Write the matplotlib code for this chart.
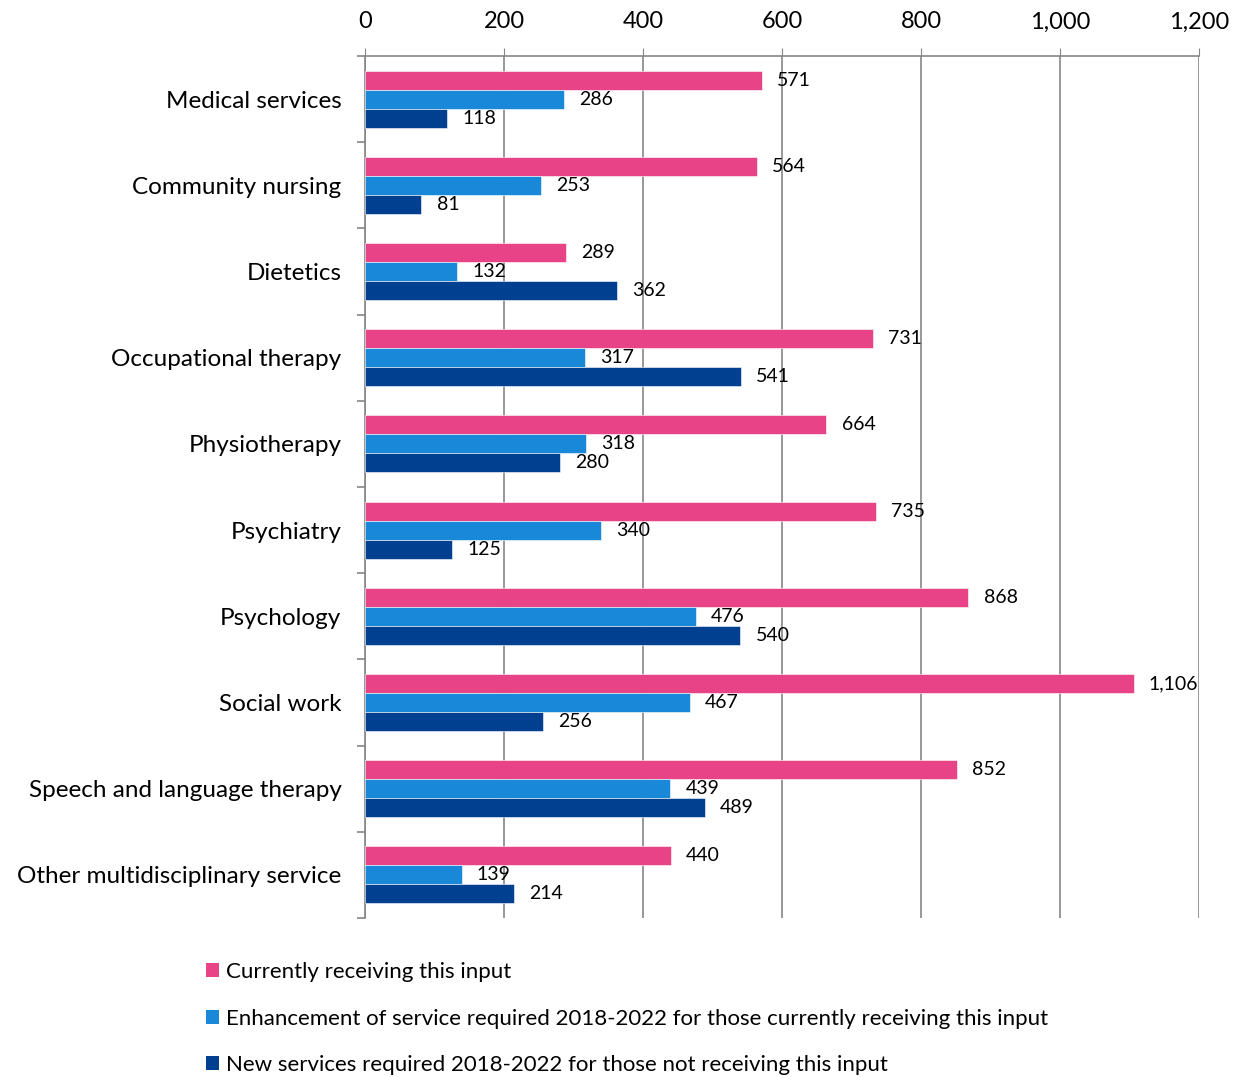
import numpy as np
import matplotlib
matplotlib.use("Agg")
import matplotlib.pyplot as plt
from matplotlib.patches import Patch
from matplotlib.ticker import FuncFormatter

plt.rcParams['font.family'] = ['Lato', 'DejaVu Sans']

# Chart data
categories = ["Medical services", "Community nursing", "Dietetics", "Occupational therapy",
              "Physiotherapy", "Psychiatry", "Psychology", "Social work",
              "Speech and language therapy", "Other multidisciplinary service"]
current = [571, 564, 289, 731, 664, 735, 868, 1106, 852, 440]
enhancement = [286, 253, 132, 317, 318, 340, 476, 467, 439, 139]
new_services = [118, 81, 362, 541, 280, 125, 540, 256, 489, 214]
series_names = ["Currently receiving this input",
                "Enhancement of service required 2018-2022 for those currently receiving this input",
                "New services required 2018-2022 for those not receiving this input"]
colors = ["#E84386", "#1A88D8", "#013F91"]

fig = plt.figure(figsize=(12.4, 10.77), dpi=100)
ax = fig.add_axes([365 / 1240, 1 - 918 / 1077, (1199 - 365) / 1240, (918 - 56) / 1077])

y = np.arange(len(categories))
h = 0.22
grid_col = "#868686"

for i, (vals, col) in enumerate(zip([current, enhancement, new_services], colors)):
    pos = y + (i - 1) * h
    ax.barh(pos, vals, height=h, color=col, edgecolor="white", linewidth=0.4, zorder=3)
    for p, v in zip(pos, vals):
        ax.text(v + 22, p, f"{v:,}", va="center", ha="left", fontsize=14, zorder=4)

ax.set_xlim(0, 1200)
ax.set_ylim(len(categories) - 0.5, -0.5)
ax.set_xticks(range(0, 1201, 200))
ax.xaxis.set_major_formatter(FuncFormatter(lambda v, _: f"{int(v):,}"))
ax.xaxis.tick_top()
ax.tick_params(axis="x", length=6, color=grid_col, labelsize=17, pad=11)
ax.grid(axis="x", color=grid_col, linewidth=1.2, zorder=0)

ax.set_yticks(y)
ax.set_yticklabels(categories, fontsize=17.5)
ax.tick_params(axis="y", length=0, pad=17)
# boundary ticks between categories
ax.set_yticks(np.arange(-0.5, len(categories)), minor=True)
ax.tick_params(axis="y", which="minor", length=6, color=grid_col, width=1.2)

for s in ["right", "bottom"]:
    ax.spines[s].set_visible(False)
for s in ["top", "left"]:
    ax.spines[s].set_color(grid_col)
    ax.spines[s].set_linewidth(1.2)

handles = [Patch(facecolor=c, label=n) for c, n in zip(colors, series_names)]
fig.legend(handles=handles, loc="upper left", bbox_to_anchor=(197 / 1240, 1 - 953 / 1077),
           borderaxespad=0, frameon=False, fontsize=16, handlelength=0.6, handleheight=0.6,
           handletextpad=0.3, labelspacing=1.2)

fig.savefig("out.png", dpi=100)
